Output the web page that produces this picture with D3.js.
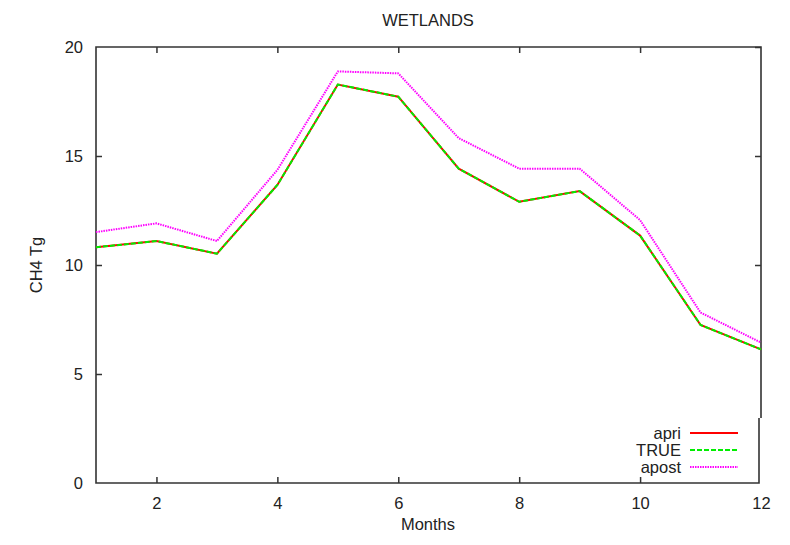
<!DOCTYPE html>
<html><head><meta charset="utf-8">
<script src="https://cdn.jsdelivr.net/npm/d3@7"></script>
<style>body{margin:0;background:#fff}svg{display:block}text{font-family:"Liberation Sans",Arial,sans-serif;fill:#222}</style>
</head><body><svg id="c" width="790" height="545"></svg>
<script>
const months = [1,2,3,4,5,6,7,8,9,10,11,12];
const apri  = [10.81,11.1,10.52,13.67,18.28,17.72,14.42,12.9,13.39,11.35,7.25,6.13];
const truth = [10.81,11.1,10.52,13.67,18.28,17.72,14.42,12.9,13.39,11.35,7.25,6.13];
const apost = [11.51,11.91,11.1,14.36,18.88,18.79,15.82,14.42,14.42,12.06,7.82,6.44];
const xTicks = [2,4,6,8,10,12];
const yTicks = [0,5,10,15,20];
const seriesNames = ["apri","TRUE","apost"];

const svg = d3.select("#c");
const L=96,R=761,T=47,B=483;
const FS=16.5;
const x = d3.scaleLinear().domain([1,12]).range([L,R]);
const y = d3.scaleLinear().domain([0,20]).range([B,T]);
const axisCol="#333";

const gB = svg.append("g").attr("transform",`translate(0,${B})`)
  .call(d3.axisBottom(x).tickValues(xTicks).tickSize(-6).tickPadding(14).tickFormat(d3.format("d")));
const gTp = svg.append("g").attr("transform",`translate(0,${T})`)
  .call(d3.axisTop(x).tickValues(xTicks).tickSize(-6).tickFormat(""));
const gL = svg.append("g").attr("transform",`translate(${L},0)`)
  .call(d3.axisLeft(y).tickValues(yTicks).tickSize(-6).tickPadding(13).tickFormat(d3.format("d")));
const gR = svg.append("g").attr("transform",`translate(${R},0)`)
  .call(d3.axisRight(y).tickValues(yTicks.filter(v=>v>5)).tickSize(-6).tickFormat(""));
[gB,gTp,gL,gR].forEach(g=>{
  g.select(".domain").remove();
  g.selectAll(".tick line").attr("stroke",axisCol).attr("stroke-width",1.5);
  g.selectAll(".tick text").attr("font-size",FS).attr("fill","#222")
   .attr("font-family",'"Liberation Sans",Arial,sans-serif');
});
gL.selectAll(".tick").filter(d=>d===0||d===20).select("line").remove();
gB.selectAll(".tick").filter(d=>d===12).select("line").remove();
gTp.selectAll(".tick").filter(d=>d===12).select("line").remove();

const fr = svg.append("g").attr("stroke",axisCol).attr("stroke-width",1.6).attr("fill","none");
fr.append("path").attr("d",`M${R},${418}V${T}H${L}V${B}H${R-2}V${418}`);

const line = d3.line().x((d,i)=>x(months[i])).y(d=>y(d));
const styles = [
  {data:apri, color:"#ff0000", dash:null},
  {data:truth, color:"#00ee00", dash:"5,2"},
  {data:apost, color:"#ff00ff", dash:"1.5,1"}
];
styles.forEach(s=>{
  svg.append("path").datum(s.data).attr("d",line).attr("fill","none")
    .attr("stroke",s.color).attr("stroke-width",2)
    .attr("stroke-dasharray",s.dash);
});

styles.forEach((s,i)=>{
  const yy = 433+i*17;
  svg.append("text").attr("x",681).attr("y",yy+6).attr("text-anchor","end")
    .attr("font-size",FS).text(seriesNames[i]);
  svg.append("line").attr("x1",690).attr("x2",738).attr("y1",yy).attr("y2",yy)
    .attr("stroke",s.color).attr("stroke-width",2).attr("stroke-dasharray",s.dash);
});

svg.append("text").attr("x",428).attr("y",26).attr("text-anchor","middle").attr("font-size",FS).text("WETLANDS");
svg.append("text").attr("x",428).attr("y",530).attr("text-anchor","middle").attr("font-size",FS).text("Months");
svg.append("text").attr("transform","translate(42,265) rotate(-90)").attr("text-anchor","middle").attr("font-size",FS).text("CH4 Tg");
</script></body></html>
